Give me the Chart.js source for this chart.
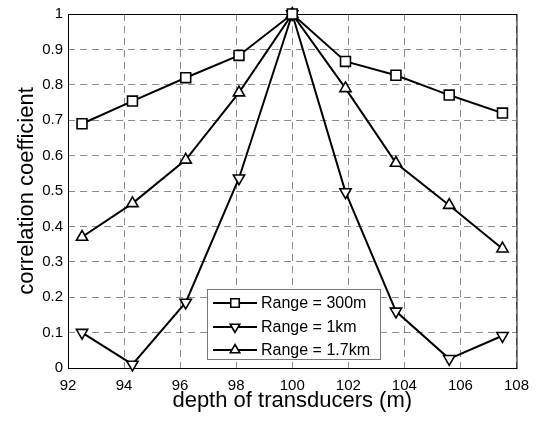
<!DOCTYPE html>
<html>
<head>
<meta charset="utf-8">
<script src="https://cdn.jsdelivr.net/npm/chart.js@4/dist/chart.umd.min.js"></script>
<style>
  html, body { margin: 0; padding: 0; background: #fff; }
  canvas { display: block; }
</style>
</head>
<body>
<canvas id="corr" width="538" height="421"></canvas>
<script>
const depth = [92.5, 94.3, 96.2, 98.1, 100, 101.9, 103.7, 105.6, 107.5];
const range300m = [0.69, 0.754, 0.82, 0.883, 1, 0.866, 0.827, 0.771, 0.72];
const range1km = [0.1, 0.01, 0.185, 0.536, 1, 0.497, 0.16, 0.026, 0.091];
const range17km = [0.37, 0.465, 0.588, 0.778, 1, 0.79, 0.579, 0.46, 0.337];
const seriesLabels = ["Range = 300m", "Range = 1km", "Range = 1.7km"];

const FONT = "'Liberation Sans', Arial, Helvetica, sans-serif";

function toPoints(ys) {
  return ys.map((y, i) => ({ x: depth[i], y: y }));
}

function makeSet(label, ys, shape, rot, radius) {
  return {
    label: label,
    data: toPoints(ys),
    showLine: true,
    clip: false,
    borderColor: "#000",
    borderWidth: 2,
    tension: 0,
    pointStyle: shape,
    pointRotation: rot,
    pointRadius: radius,
    pointBorderWidth: 1.6,
    pointBorderColor: "#000",
    pointBackgroundColor: "#fff",
  };
}

// box around the plot + legend inside the axes
const frameAndLegend = {
  id: "frameAndLegend",
  beforeDatasetsDraw(chart) {
    const { ctx, chartArea: a } = chart;
    ctx.save();
    ctx.strokeStyle = "#000";
    ctx.lineWidth = 1;
    ctx.strokeRect(a.left + 0.5, a.top + 0.5, a.right - a.left, a.bottom - a.top);
    ctx.restore();
  },
  afterDraw(chart) {
    const { ctx } = chart;
    const x0 = 207, y0 = 289, w = 173, h = 70;
    ctx.save();
    ctx.fillStyle = "#fff";
    ctx.fillRect(x0, y0, w, h);
    ctx.strokeStyle = "#777";
    ctx.lineWidth = 1;
    ctx.strokeRect(x0 + 0.5, y0 + 0.5, w, h);
    const rows = [303, 327, 350];
    chart.data.datasets.forEach((ds, i) => {
      const y = rows[i];
      ctx.strokeStyle = "#000";
      ctx.lineWidth = 2;
      ctx.beginPath();
      ctx.moveTo(213, y);
      ctx.lineTo(257, y);
      ctx.stroke();
      const opts = {
        pointStyle: ds.pointStyle,
        rotation: ds.pointRotation,
        radius: ds.pointRadius - 1,
        borderWidth: 1.6,
      };
      ctx.fillStyle = "#fff";
      ctx.strokeStyle = "#000";
      ctx.lineWidth = 1.6;
      Chart.helpers.drawPoint(ctx, opts, 235, y);
      ctx.fillStyle = "#000";
      ctx.font = "16px " + FONT;
      ctx.textBaseline = "middle";
      ctx.textAlign = "left";
      ctx.fillText(ds.label, 261, y + 1);
    });
    ctx.restore();
  },
};

const gridStyle = {
  color: "rgba(0,0,0,0.45)",
  lineWidth: 1,
  drawTicks: false,
};

const config = {
  type: "scatter",
  data: {
    datasets: [
      makeSet(seriesLabels[0], range300m, "rect", 0, 7),
      makeSet(seriesLabels[1], range1km, "triangle", 180, 6.5),
      makeSet(seriesLabels[2], range17km, "triangle", 0, 6.5),
    ],
  },
  options: {
    responsive: false,
    animation: false,
    layout: { padding: { top: 13, right: 18, left: 0, bottom: 0 } },
    plugins: {
      legend: { display: false },
      tooltip: { enabled: false },
    },
    scales: {
      x: {
        type: "linear",
        min: 92,
        max: 108,
        grid: gridStyle,
        border: { display: false, dash: [7, 5] },
        ticks: {
          stepSize: 2,
          padding: 9,
          color: "#000",
          font: { family: FONT, size: 15 },
        },
        title: {
          display: true,
          text: "depth of transducers (m)",
          color: "#000",
          font: { family: FONT, size: 22 },
          padding: { top: 0, bottom: 7 },
        },
        afterFit(scale) {
          scale.height = 53;
        },
      },
      y: {
        min: 0,
        max: 1,
        grid: gridStyle,
        border: { display: false, dash: [7, 5] },
        ticks: {
          stepSize: 0.1,
          padding: 5,
          color: "#000",
          font: { family: FONT, size: 15 },
          callback: (v) => String(Math.round(v * 10) / 10),
        },
        title: {
          display: true,
          text: "correlation coefficient",
          color: "#000",
          font: { family: FONT, size: 22 },
          padding: { top: 14, bottom: 0 },
        },
        afterFit(scale) {
          scale.width = 68;
        },
      },
    },
  },
  plugins: [frameAndLegend],
};

const corrChart = new Chart(document.getElementById("corr"), config);
</script>
</body>
</html>
